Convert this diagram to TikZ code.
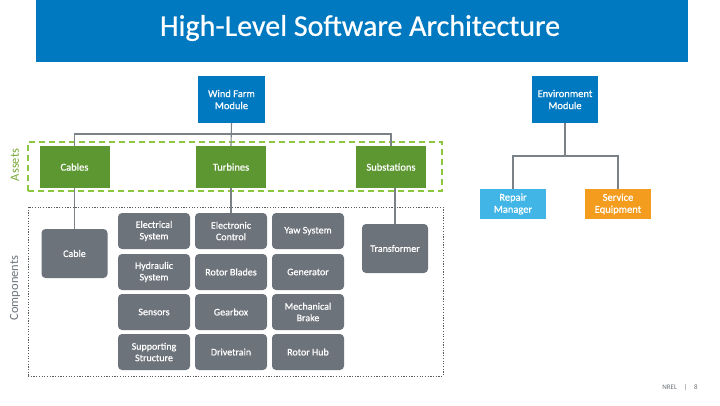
\documentclass[tikz,border=0pt]{standalone}
\usepackage{fontspec}
\setmainfont{Carlito}
\newfontfamily\boxfont{Carlito}[FakeBold=0.6]
\definecolor{nrelblue}{HTML}{0079C1}
\definecolor{assetgreen}{HTML}{5D9732}
\definecolor{dashgreen}{HTML}{8DC63F}
\definecolor{compgray}{HTML}{6D737B}
\definecolor{linegray}{HTML}{7A8288}
\definecolor{repairblue}{HTML}{41B6E6}
\definecolor{serviceorange}{HTML}{F39C1E}
\definecolor{labelgray}{HTML}{6D737B}
\begin{document}
\begin{tikzpicture}[x=1pt,y=-1pt,
  box/.style={rectangle,draw=none,text=white,align=center,font=\boxfont\fontsize{10.5}{12}\selectfont,inner sep=1pt},
  modbox/.style={box,fill=nrelblue,minimum width=67pt,minimum height=47pt},
  assetbox/.style={box,fill=assetgreen,minimum width=70pt,minimum height=42pt},
  compbox/.style={box,fill=compgray,rounded corners=4pt,minimum width=72pt,minimum height=36pt,font=\boxfont\fontsize{10}{11.5}\selectfont},
  bigcomp/.style={compbox,minimum width=66pt,minimum height=49pt},
  envbox/.style={box,minimum width=66pt,minimum height=30pt},
  conn/.style={draw=linegray,line width=1.1pt},
  sidelabel/.style={rotate=90,text=labelgray,font=\fontsize{12.5}{14}\selectfont}
]
\useasboundingbox[fill=white] (0,0) rectangle (720,405);
% title
\node[fill=nrelblue,minimum width=652pt,minimum height=62pt,inner sep=0pt,anchor=north] (title) at (362,0) {};
\node[text=white,font=\boxfont\fontsize{30}{34}\selectfont] (titletext) at (360,28) {High-Level Software Architecture};

% frames
\node[draw=dashgreen,dash pattern=on 6pt off 4pt,line width=1.5pt,minimum width=414pt,minimum height=49pt,inner sep=0pt] (assetsframe) at (235,166.5) {};
\node[draw=compgray!80!black,dash pattern=on 1.2pt off 1.5pt,line width=1pt,minimum width=415pt,minimum height=169pt,inner sep=0pt] (compframe) at (235.5,291.5) {};
\node[sidelabel,text=dashgreen!85!black] (assetslabel) at (15,165) {Assets};
\node[sidelabel] (complabel) at (15,288) {Components};

% modules
\node[modbox] (wf) at (231.5,99.5) {Wind Farm\\Module};
\node[modbox,minimum width=66pt] (env) at (565,99.5) {Environment\\Module};

% assets
\node[assetbox] (cables) at (74.5,167) {Cables};
\node[assetbox] (turb) at (231,167) {Turbines};
\node[assetbox] (subst) at (391,167) {Substations};

% components
\node[bigcomp] (cable) at (74.5,253.5) {Cable};
\node[bigcomp] (trans) at (395,248.5) {Transformer};

\node[compbox] (elsys) at (154,231) {Electrical\\System};
\node[compbox] (ectrl) at (231,231) {Electronic\\Control};
\node[compbox] (yaw) at (308,231) {Yaw System};
\node[compbox] (hyd) at (154,272) {Hydraulic\\System};
\node[compbox] (blades) at (231,272) {Rotor Blades};
\node[compbox] (gen) at (308,272) {Generator};
\node[compbox] (sens) at (154,312) {Sensors};
\node[compbox] (gear) at (231,312) {Gearbox};
\node[compbox] (brake) at (308,312) {Mechanical\\Brake};
\node[compbox] (supp) at (154,352) {Supporting\\Structure};
\node[compbox] (drive) at (231,352) {Drivetrain};
\node[compbox] (hub) at (308,352) {Rotor Hub};

% environment children
\node[envbox,fill=repairblue] (repair) at (513,204) {Repair\\Manager};
\node[envbox,fill=serviceorange] (service) at (618,204) {Service\\Equipment};

% connectors
\coordinate (wfbus) at (231.5,134);
\draw[conn] (cables.north) |- (wfbus) -| (subst.north);
\draw[conn] (wf.south) -- (turb.north);
\draw[conn] (cables.south) -- (cable.north);
\draw[conn] (turb.south) -- (ectrl.north);
\draw[conn] (trans.north) -- (trans.north |- subst.south);
\coordinate (envbus) at (565,156);
\draw[conn] (env.south) -- (envbus);
\draw[conn] (repair.north) |- (envbus) -| (service.north);

% footer
\node[text=labelgray,font=\fontsize{7}{8}\selectfont] (footer) at (680,388) {NREL\quad|\quad 8};
\end{tikzpicture}
\end{document}
